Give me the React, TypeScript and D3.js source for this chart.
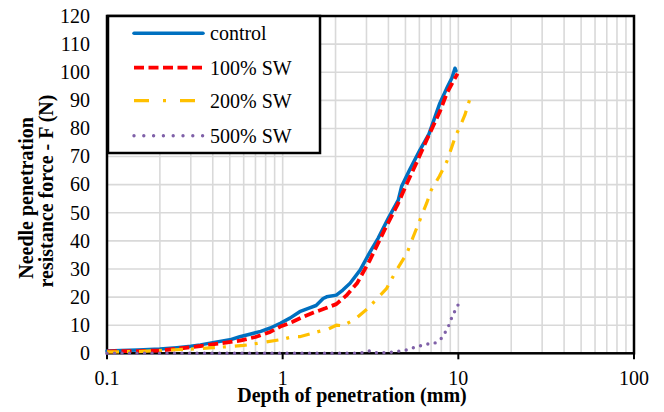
import React from "react";
import * as d3 from "d3";

const controlDepth = [0.1, 0.12, 0.15, 0.2, 0.25, 0.3, 0.34, 0.4, 0.5, 0.57, 0.65, 0.75, 0.85, 0.97, 1.1, 1.25, 1.4, 1.55, 1.7, 1.78, 2.02, 2.2, 2.42, 2.76, 3.14, 3.5, 3.99, 4.55, 4.75, 5.3, 6.04, 6.8, 7.85, 8.7, 9.2, 9.57, 9.7];
const controlForce = [0.8, 1.0, 1.2, 1.5, 2.0, 2.5, 3.0, 3.8, 4.8, 5.9, 6.8, 7.8, 9.0, 10.7, 12.5, 14.8, 16.0, 17.0, 19.5, 20.1, 20.7, 22.5, 24.9, 29.6, 36, 41, 48, 54.5, 59.3, 65.5, 72.3, 78, 89, 95, 98, 101.4, 100.5];

const sw100Depth = [0.1, 0.15, 0.2, 0.25, 0.34, 0.45, 0.57, 0.7, 0.85, 0.97, 1.14, 1.31, 1.5, 1.75, 2.02, 2.3, 2.65, 3.14, 3.8, 4.5, 5.1, 5.8, 6.6, 7.85, 8.6, 9.3, 9.9];
const sw100Force = [0.7, 0.8, 1.0, 1.6, 2.6, 3.6, 4.5, 5.8, 7.6, 9.5, 11.2, 13, 14.5, 16, 17.5, 20.5, 24.9, 33.2, 43.9, 52.8, 60.5, 68, 75.9, 86, 92.5, 96.5, 99.5];

const sw200Depth = [0.1, 0.15, 0.2, 0.3, 0.4, 0.5, 0.6, 0.68, 0.8, 1.0, 1.14, 1.25, 1.59, 1.8, 2.02, 2.2, 2.58, 3.06, 3.5, 3.9, 4.45, 5.1, 5.5, 6.04, 6.6, 7.0, 7.8, 8.6, 9.6, 10.2, 10.9, 11.7];
const sw200Force = [0.5, 0.6, 1.0, 1.5, 2.0, 2.4, 2.8, 3.3, 4.0, 5.0, 5.9, 5.9, 7.7, 8.5, 10.0, 9.8, 12.1, 16, 19.9, 23, 29.6, 35.6, 41, 47.4, 53.4, 58, 63, 68.2, 77, 80.6, 84.8, 91];

const sw500Depth = [0.1, 0.2, 0.5, 1, 2, 2.8, 3.14, 3.4, 4, 5.1, 5.8, 6.7, 7.3, 8.0, 8.7, 9.15, 9.8, 10.4];
const sw500Force = [0, 0, 0, 0, 0, 0.1, 0.9, 0.2, 0.2, 1.2, 2.4, 3.3, 3.5, 5.3, 8.9, 12.5, 16.5, 19];

const seriesNames = ["control", "100% SW", "200% SW", "500% SW"];
const yTicks = [0, 10, 20, 30, 40, 50, 60, 70, 80, 90, 100, 110, 120];
const xMajorTicks = [0.1, 1, 10, 100];
const xTickLabels = ["0.1", "1", "10", "100"];

const FONT = "'Liberation Serif', Tinos, 'Times New Roman', 'DejaVu Serif', serif";

export default function App() {
  const left = 107, right = 634, top = 16, bottom = 353.3;
  const x = d3.scaleLog().domain([0.1, 100]).range([left, right]);
  const y = d3.scaleLinear().domain([0, 120]).range([bottom, top]);

  const minor: number[] = [];
  [0.1, 1, 10].forEach((dec) => {
    for (let k = 1; k <= 9; k++) minor.push(dec * k);
  });
  minor.push(100);

  const line = d3
    .line<[number, number]>()
    .x((d) => x(d[0]))
    .y((d) => y(d[1]));

  const zip = (a: number[], b: number[]) => a.map((v, i) => [v, b[i]] as [number, number]);

  const series = [
    { name: seriesNames[0], data: zip(controlDepth, controlForce), color: "#0070C0", width: 3.5, dash: undefined as string | undefined, cap: "round", legendDash: undefined as string | undefined },
    { name: seriesNames[1], data: zip(sw100Depth, sw100Force), color: "#FF0000", width: 3.8, dash: "10 4.5", cap: "butt", legendDash: "10 4.5" },
    { name: seriesNames[2], data: zip(sw200Depth, sw200Force), color: "#FFC000", width: 3.2, dash: "12 8 3 9", cap: "butt", legendDash: "15 14 3 14" },
    { name: seriesNames[3], data: zip(sw500Depth, sw500Force), color: "#7F60A8", width: 3.4, dash: "0 7.5", cap: "round", legendDash: "0 9.8" },
  ];

  const legendY = [33.3, 67.7, 100.7, 135.7];
  const textStyle = { fontFamily: FONT } as React.CSSProperties;

  return (
    <svg width={664} height={412} style={{ position: "absolute", left: 0, top: 0, background: "#fff" }}>
      <rect x={0} y={0} width={664} height={412} fill="#fff" />
      {/* grid */}
      {yTicks.filter((t) => t > 0 && t < 120).map((t) => (
        <line key={"h" + t} x1={left} x2={right} y1={y(t)} y2={y(t)} stroke="#d9d9d9" strokeWidth={1.6} />
      ))}
      {minor.filter((v) => v > 0.1 && v < 100).map((v, i) => (
        <line key={"v" + i} x1={x(v)} x2={x(v)} y1={top} y2={bottom} stroke="#d9d9d9" strokeWidth={1.6} />
      ))}
      {/* frame */}
      <rect x={left} y={top} width={right - left} height={bottom - top} fill="none" stroke="#000" strokeWidth={2.5} />
      {xMajorTicks.map((t) => (
        <line key={"xt" + t} x1={x(t)} x2={x(t)} y1={bottom} y2={bottom + 6} stroke="#000" strokeWidth={2} />
      ))}
      {/* data */}
      {series.map((s) => (
        <path key={s.name} d={line(s.data) || ""} fill="none" stroke={s.color} strokeWidth={s.width}
          strokeDasharray={s.dash} strokeLinecap={s.cap as any} strokeLinejoin="round" />
      ))}
      {/* tick labels */}
      {yTicks.map((t) => (
        <text key={"yl" + t} x={90} y={y(t)} dy="0.34em" textAnchor="end" style={textStyle} fontSize={20} fill="#000">{t}</text>
      ))}
      {xMajorTicks.map((t, i) => (
        <text key={"xl" + t} x={x(t)} y={385} textAnchor="middle" style={textStyle} fontSize={20} fill="#000">{xTickLabels[i]}</text>
      ))}
      {/* axis titles */}
      <text x={352} y={401.5} textAnchor="middle" style={textStyle} fontSize={20} fontWeight="bold" fill="#000">Depth of penetration (mm)</text>
      <g transform="translate(33,198) rotate(-90)">
        <text x={0} y={0} textAnchor="middle" style={textStyle} fontSize={20} fontWeight="bold" fill="#000">Needle penetration</text>
      </g>
      <g transform="translate(53,191) rotate(-90)">
        <text x={0} y={0} textAnchor="middle" style={textStyle} fontSize={20} fontWeight="bold" fill="#000">resistance force - F (N)</text>
      </g>
      {/* legend */}
      <rect x={108} y={16} width={212} height={137} fill="#fff" stroke="#000" strokeWidth={2.5} />
      {series.map((s, i) => (
        <g key={"lg" + i}>
          <line x1={134} x2={203} y1={legendY[i]} y2={legendY[i]} stroke={s.color} strokeWidth={s.width}
            strokeDasharray={s.legendDash} strokeLinecap={s.cap as any} />
          <text x={210} y={legendY[i] + 7} style={textStyle} fontSize={20} fill="#000">{s.name}</text>
        </g>
      ))}
    </svg>
  );
}
